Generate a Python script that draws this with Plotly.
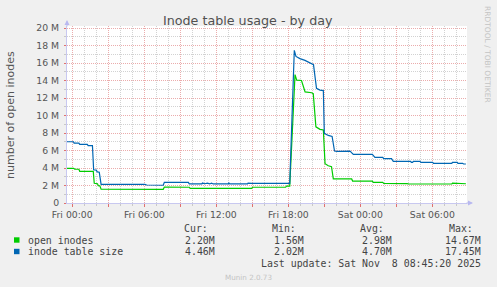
import plotly.graph_objects as go

# ---------------- data (hours after Fri 00:00, values in millions) ----------------
open_t = [-0.45, 0.00, 0.05, 0.12, 0.20, 0.55, 0.62, 1.75, 1.83, 2.10, 2.17, 2.30, 2.40,
          7.58, 7.67, 8.30, 8.35, 8.45, 9.75, 9.82, 10.65, 10.70, 10.78, 14.95, 15.02,
          17.78, 17.85, 18.12, 18.56, 18.70, 19.10, 19.40, 19.95, 20.08, 20.30, 20.64,
          20.92, 21.06, 21.33, 21.60, 21.75, 23.28, 23.36, 25.00, 25.08, 25.87, 25.95,
          27.60, 27.65, 27.90, 28.05, 31.62, 31.68, 32.20, 32.28, 32.80]
open_v = [3.96, 3.96, 4.03, 3.96, 3.86, 3.86, 3.62, 3.62, 2.25, 2.20, 1.98, 1.96, 1.58,
          1.56, 1.83, 1.83, 1.76, 1.83, 1.80, 1.68, 1.68, 1.74, 1.68, 1.68, 1.80,
          1.80, 1.94, 1.94, 14.67, 14.05, 14.00, 12.70, 12.60, 12.50, 8.70, 8.42,
          8.34, 4.50, 4.25, 4.15, 2.75, 2.75, 2.51, 2.51, 2.36, 2.36, 2.25,
          2.25, 2.30, 2.22, 2.17, 2.17, 2.28, 2.28, 2.20, 2.20]

table_t = [-0.45, 0.10, 0.15, 0.55, 0.62, 1.25, 1.32, 1.68, 1.78, 2.00, 2.08, 2.25, 2.40,
           4.50, 4.55, 4.70, 4.75, 4.95, 5.90, 5.95, 6.05, 6.20, 7.58, 7.67, 9.67, 9.75,
           10.80, 10.85, 11.05, 11.25, 11.45, 11.60, 11.75, 13.00, 13.05, 13.12, 14.60,
           14.65, 14.95, 18.12, 18.50, 18.64, 18.97, 19.39, 19.80, 20.10, 20.35, 20.64,
           20.92, 21.00, 21.33, 21.65, 21.85, 22.05, 23.14, 23.22, 23.42, 25.00, 25.22,
           25.87, 25.95, 26.60, 26.75, 28.20, 28.25, 28.36, 28.42, 28.97, 29.05, 30.03,
           30.10, 31.62, 31.68, 32.08, 32.13, 32.53, 32.60, 32.80]
table_v = [7.00, 7.00, 6.85, 6.85, 6.70, 6.70, 6.55, 6.55, 3.80, 3.76, 3.56, 3.52, 2.13,
           2.13, 2.09, 2.16, 2.11, 2.13, 2.13, 2.09, 2.13, 2.06, 2.03, 2.37, 2.36, 2.18,
           2.18, 2.28, 2.20, 2.27, 2.18, 2.27, 2.18, 2.18, 2.28, 2.18, 2.18,
           2.28, 2.25, 2.25, 17.45, 16.75, 16.50, 16.30, 15.97, 15.80, 13.10, 12.90,
           12.85, 7.97, 7.72, 7.60, 5.94, 5.90, 5.94, 5.85, 5.56, 5.56, 5.22,
           5.22, 5.07, 5.07, 4.76, 4.76, 4.65, 4.65, 4.76, 4.76, 4.65, 4.65,
           4.53, 4.53, 4.65, 4.65, 4.53, 4.53, 4.46, 4.46]

x_tickvals = [0, 3, 6, 9, 12, 15, 18, 21, 24, 27, 30]
x_ticktext = ["Fri 00:00", "", "Fri 06:00", "", "Fri 12:00", "", "Fri 18:00", "",
              "Sat 00:00", "", "Sat 06:00"]
y_tickvals = [0, 2, 4, 6, 8, 10, 12, 14, 16, 18, 20]
y_ticktext = ["0", "2 M", "4 M", "6 M", "8 M", "10 M", "12 M", "14 M", "16 M", "18 M", "20 M"]

series_names = ["open inodes", "inode table size"]
series_colors = ["#00CC00", "#0066B3"]
cur_vals = ["2.20M", "4.46M"]
min_vals = ["1.56M", "2.02M"]
avg_vals = ["2.98M", "4.70M"]
max_vals = ["14.67M", "17.45M"]
title_text = "Inode table usage - by day"
y_title = "number of open inodes"
last_update = "Last update: Sat Nov  8 08:45:20 2025"
munin_ver = "Munin 2.0.73"
rrd_credit = "RRDTOOL / TOBI OETIKER"

# ---------------- figure ----------------
L, R, T, B = 67, 467, 26, 203
W, H = 497, 287


def px(x):
    return (x - L) / (R - L)


def py(y):
    return (B - y) / (B - T)


fig = go.Figure()
fig.add_trace(go.Scatter(x=open_t, y=open_v, mode="lines",
                         line=dict(color=series_colors[0], width=1.2), hoverinfo="skip"))
fig.add_trace(go.Scatter(x=table_t, y=table_v, mode="lines",
                         line=dict(color=series_colors[1], width=1.2), hoverinfo="skip"))

major_grid = "#EBACAC"
minor_grid = "#D2D2D2"
axis_line = "#C8C8F0"
dash = "1px,1px"

fig.update_layout(
    width=W, height=H,
    margin=dict(l=L, r=W - R, t=T, b=H - B, pad=0),
    paper_bgcolor="#F0F0F0", plot_bgcolor="#FFFFFF",
    showlegend=False,
    font=dict(family="DejaVu Sans", color="#555555", size=9.3),
    xaxis=dict(range=[-0.44, 32.89], tickmode="array", tickvals=x_tickvals, ticktext=x_ticktext,
               showgrid=True, gridcolor=major_grid, griddash=dash, gridwidth=1,
               zeroline=False, showline=True, linecolor=axis_line, linewidth=1,
               ticks="outside", ticklen=3, tickcolor="#E07070", tickwidth=1,
               tickfont=dict(size=9.3, color="#555555"),
               minor=dict(dtick=1, tick0=0, showgrid=True, gridcolor=minor_grid,
                          griddash=dash, ticks="outside", ticklen=2, tickcolor="#C8C8C8")),
    yaxis=dict(range=[0, 20.23], tickmode="array", tickvals=y_tickvals, ticktext=y_ticktext,
               showgrid=True, gridcolor=major_grid, griddash=dash, gridwidth=1,
               zeroline=False, showline=True, linecolor=axis_line, linewidth=1,
               ticks="outside", ticklen=2, tickcolor="#E07070", tickwidth=1,
               tickfont=dict(size=9.3, color="#555555"), ticklabelstandoff=3,
               minor=dict(dtick=1, tick0=0, showgrid=True, gridcolor=minor_grid,
                          griddash=dash, ticks="outside", ticklen=2, tickcolor="#C8C8C8")),
)

ann = []
# title
ann.append(dict(text=title_text, x=px(248), y=py(20), xanchor="center", yanchor="middle",
                font=dict(size=12.7, color="#505050")))
# y axis title
ann.append(dict(text=y_title, x=px(11), y=py(115), xanchor="center", yanchor="middle",
                textangle=-90, font=dict(size=11, color="#555555")))
# rrdtool credit
ann.append(dict(text=rrd_credit, x=px(488), y=py(54), xanchor="center", yanchor="middle",
                textangle=90, font=dict(size=7.5, color="#C4C4C4")))
# munin version
ann.append(dict(text=munin_ver, x=px(248), y=py(277), xanchor="center", yanchor="middle",
                font=dict(size=7.2, color="#C4C4C4")))

mono = "DejaVu Sans Mono"
fs = 9.9
txtc = "#444444"
headers = [("Cur:", 181.5), ("Min:", 270), ("Avg:", 357.7), ("Max:", 446.7)]
for h, hx in headers:
    ann.append(dict(text=h, x=px(hx), y=py(228), xanchor="left", yanchor="middle",
                    font=dict(family=mono, size=fs, color=txtc)))
row_y = [240, 251.5]
cols = [(cur_vals, 217.3), (min_vals, 306.3), (avg_vals, 394), (max_vals, 483.3)]
shapes = []
for i, name in enumerate(series_names):
    ann.append(dict(text=name, x=px(26), y=py(row_y[i]), xanchor="left", yanchor="middle",
                    font=dict(family=mono, size=fs, color=txtc)))
    for vals, cx in cols:
        ann.append(dict(text=vals[i], x=px(cx), y=py(row_y[i]), xanchor="right", yanchor="middle",
                        font=dict(family=mono, size=fs, color=txtc)))
    shapes.append(dict(type="rect", xref="paper", yref="paper",
                       x0=px(14), x1=px(19.5), y0=py(row_y[i] - 2.7), y1=py(row_y[i] + 2.7),
                       fillcolor=series_colors[i], line=dict(width=0)))
ann.append(dict(text=last_update, x=px(483.3), y=py(263.5), xanchor="right", yanchor="middle",
                font=dict(family=mono, size=fs, color=txtc)))

# axis arrows
ann.append(dict(text="", x=px(473), y=py(203), ax=-8, ay=0, showarrow=True,
                arrowhead=2, arrowsize=1, arrowwidth=1, arrowcolor="#B8B8F0"))
ann.append(dict(text="", x=px(67), y=py(20), ax=0, ay=8, showarrow=True,
                arrowhead=2, arrowsize=1, arrowwidth=1, arrowcolor="#B8B8F0"))

for a in ann:
    a.setdefault("xref", "paper")
    a.setdefault("yref", "paper")
    a.setdefault("showarrow", False)

fig.update_layout(annotations=ann, shapes=shapes)
fig.write_html("out.html")
